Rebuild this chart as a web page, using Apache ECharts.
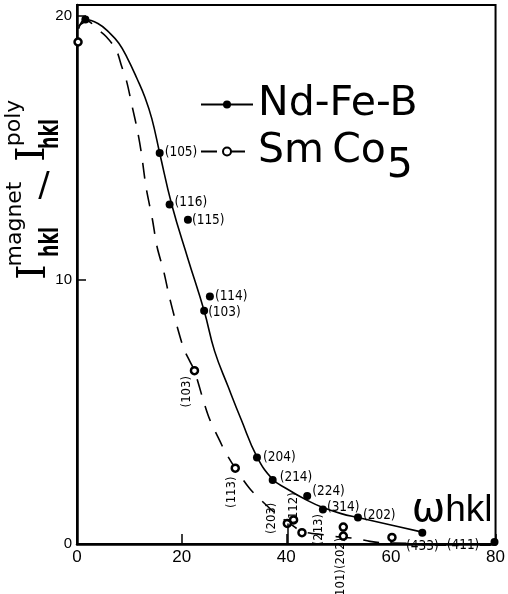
<!DOCTYPE html>
<html><head><meta charset="utf-8">
<script src="https://cdn.jsdelivr.net/npm/echarts@6/dist/echarts.min.js"></script>
<style>html,body{margin:0;padding:0;background:#fff}#c{width:508px;height:594px}</style>
</head><body><div id="c"></div>
<script>
// ---- data ----
const xTicks = [0, 20, 40, 60, 80];
const yTicks = [0, 10, 20];

// fitted curve Nd-Fe-B (solid)
const ndCurveX = [0.3, 1.6, 4.0, 6.2, 8.0, 9.6, 11.5, 13.0, 14.3, 15.8, 18.1, 21.2, 24.3, 26.3, 28.9, 31.4, 34.4, 37.4, 40.0, 44.0, 47.0, 50.5, 53.7, 60.0, 66.0];
const ndCurveY = [19.5, 19.85, 19.7, 19.35, 18.95, 18.4, 17.6, 16.9, 16.1, 14.8, 12.85, 10.8, 8.83, 7.3, 5.95, 4.7, 3.3, 2.45, 2.1, 1.65, 1.38, 1.15, 1.0, 0.72, 0.45];

// fitted curve SmCo5 (dashed)
const smCurveX = [0.3, 2.0, 3.8, 5.6, 7.5, 8.5, 9.5, 10.5, 11.5, 12.3, 13.2, 14.4, 15.3, 16.6, 17.6, 18.9, 20.4, 21.6, 22.45, 24.2, 25.4, 27.3, 28.3, 30.25, 33.0, 35.5, 38.0, 40.5, 43.0, 47.4, 49.6, 52.8, 56.0, 58.5, 63.0];
const smCurveY = [19.6, 19.8, 19.5, 19.2, 18.7, 18.1, 17.5, 16.6, 15.7, 14.8, 13.5, 12.3, 11.25, 10.3, 9.4, 8.4, 7.4, 6.9, 6.56, 5.4, 4.7, 3.9, 3.5, 2.87, 2.1, 1.6, 1.15, 0.8, 0.48, 0.34, 0.28, 0.22, 0.1, 0.04, 0.03];

// measured points Nd-Fe-B (filled)
const ndX = [1.6, 15.8, 17.7, 21.2, 25.4, 24.3, 34.4, 37.4, 44.0, 47.0, 53.7, 66.0, 79.8];
const ndY = [19.85, 14.8, 12.85, 12.27, 9.37, 8.83, 3.27, 2.42, 1.82, 1.31, 1.0, 0.43, 0.08];
const ndHkl = ['', '(105)', '(116)', '(115)', '(114)', '(103)', '(204)', '(214)', '(224)', '(314)', '(202)', '(433)', '—(411)—'];

// measured points SmCo5 (open)
const smX = [0.2, 22.45, 30.25, 40.2, 41.4, 43.0, 50.9, 50.9, 60.2];
const smY = [19.0, 6.56, 2.87, 0.78, 0.91, 0.43, 0.64, 0.30, 0.25];
const smHkl = ['', '(103)', '(113)', '(203)', '(112)', '(213)', '', '(101)(202)', ''];

const seriesNames = ['Nd-Fe-B', 'SmCo5'];

// ---- label placement (style, not data) ----
const ndPlace = {
  '(105)': [5, 0, 'left'], '(116)': [5, -2, 'left'], '(115)': [4, 1, 'left'], '(114)': [5, 0, 'left'],
  '(103)': [4, 2, 'left'], '(204)': [6, 0, 'left'], '(214)': [7, -3, 'left'], '(224)': [5, -4, 'left'],
  '(314)': [4, -2, 'left'], '(202)': [5, -2, 'left'], '(433)': [0, 14, 'center'], '—(411)—': [-3, 4, 'right']
};
// screen offsets of label centre for vertical labels
const smPlace = {
  '(103)': [-8, 21], '(113)': [-4, 24], '(203)': [-16, -5], '(112)': [0, -12], '(213)': [17, -3], '(101)(202)': [-3, 33]
};

const LBL_FONT = "'DejaVu Sans Condensed','DejaVu Sans',sans-serif";
const zip = (xs, ys) => xs.map((x, i) => [x, ys[i]]);

const ndPoints = ndX.map((x, i) => {
  const t = ndHkl[i];
  if (!t) return {value: [x, ndY[i]], label: {show: false}};
  const p = ndPlace[t];
  return {value: [x, ndY[i]], label: {show: true, formatter: t, position: 'inside', align: p[2], verticalAlign: 'middle', offset: [p[0], p[1]]}};
});
const smPoints = smX.map((x, i) => {
  const t = smHkl[i];
  if (!t) return {value: [x, smY[i]], label: {show: false}};
  const p = smPlace[t];
  // label rotated 90deg: offset expressed in rotated frame
  return {value: [x, smY[i]], label: {show: true, formatter: t, position: 'inside', rotate: 90, align: 'center', verticalAlign: 'middle', offset: [-p[1], p[0]]}};
});
// stem below the (203) point
const stemIdx = smHkl.indexOf('(203)');

const chart = echarts.init(document.getElementById('c'), null, {renderer: 'canvas'});
const rot = Math.PI / 2;
chart.setOption({
  animation: false,
  backgroundColor: '#fff',
  grid: {left: 77, right: 6, top: 5, bottom: 50, show: true, borderColor: '#000', borderWidth: 2},
  legend: {
    data: seriesNames, orient: 'vertical', left: 200, top: 84, itemWidth: 52, itemHeight: 10, itemGap: 6,
    padding: 0, selectedMode: false,
    formatter: n => n === 'SmCo5' ? '{n|Sm\u2009Co}{s|5}' : '{n|Nd-Fe-B}',
    textStyle: {color: '#000', fontSize: 41, fontFamily: 'DejaVu Sans',
      rich: {n: {fontSize: 41, fontFamily: 'DejaVu Sans', color: '#000', verticalAlign: 'middle'},
             s: {fontSize: 41, fontFamily: 'DejaVu Sans', color: '#000', verticalAlign: 'middle', padding: [30, 0, 0, 1]}}}
  },
  xAxis: {
    type: 'value', min: xTicks[0], max: xTicks[xTicks.length - 1], interval: xTicks[1] - xTicks[0],
    name: '{w|ω}{h|hkl}', nameLocation: 'end', nameGap: -3,
    nameTextStyle: {align: 'right', verticalAlign: 'bottom', padding: [0, 0, 13, 0], fontSize: 36, color: '#000',
      rich: {w: {fontSize: 40, fontFamily: 'DejaVu Sans', color: '#000'}, h: {fontSize: 37, fontFamily: 'Liberation Sans', color: '#000'}}},
    axisLine: {show: true, lineStyle: {color: '#000', width: 2.5}},
    axisTick: {show: true, inside: true, length: 10, lineStyle: {color: '#000', width: 1.5}},
    splitLine: {show: false},
    axisLabel: {color: '#000', fontSize: 17, fontFamily: 'Liberation Sans', margin: 5}
  },
  yAxis: {
    type: 'value', min: yTicks[0], max: 20.4, interval: yTicks[1] - yTicks[0],
    axisLine: {show: true, lineStyle: {color: '#000', width: 2.5}},
    axisTick: {show: true, inside: true, length: 9, lineStyle: {color: '#000', width: 1.5}},
    splitLine: {show: false},
    axisLabel: {color: '#000', fontSize: 15, fontFamily: 'Liberation Sans', margin: 5,
      formatter: v => (yTicks.indexOf(v) >= 0 ? String(v) : '')}
  },
  graphic: [
    {type: 'text', x: 35, y: 272, rotation: rot, style: {text: 'I', font: '40px "DejaVu Serif"', fill: '#000', align: 'center', verticalAlign: 'middle'}},
    {type: 'text', x: 51, y: 242, rotation: rot, scaleX: 0.75, style: {text: 'hkl', font: 'bold 26px "DejaVu Sans Condensed"', fill: '#000', align: 'center', verticalAlign: 'middle'}},
    {type: 'text', x: 15, y: 224, rotation: rot, style: {text: 'magnet', font: '22px "DejaVu Sans"', fill: '#000', align: 'center', verticalAlign: 'middle'}},
    {type: 'text', x: 44, y: 187, style: {text: '/', font: '34px "DejaVu Sans"', fill: '#000', align: 'center', verticalAlign: 'middle'}},
    {type: 'text', x: 34, y: 154, rotation: rot, style: {text: 'I', font: '40px "DejaVu Serif"', fill: '#000', align: 'center', verticalAlign: 'middle'}},
    {type: 'text', x: 14, y: 123, rotation: rot, style: {text: 'poly', font: '22px "DejaVu Sans"', fill: '#000', align: 'center', verticalAlign: 'middle'}},
    {type: 'text', x: 51, y: 134, rotation: rot, scaleX: 0.75, style: {text: 'hkl', font: 'bold 26px "DejaVu Sans Condensed"', fill: '#000', align: 'center', verticalAlign: 'middle'}}
  ],
  series: [
    {name: seriesNames[0], type: 'line', data: zip(ndCurveX, ndCurveY), smooth: 0.45, symbol: 'circle', showSymbol: false,
     lineStyle: {color: '#000', width: 1.6}, itemStyle: {color: '#000'}, z: 2, silent: true},
    {name: seriesNames[1], type: 'line', data: zip(smCurveX, smCurveY), smooth: 0.3, symbol: 'emptyCircle', showSymbol: false,
     lineStyle: {color: '#000', width: 1.6, type: [16, 12]}, itemStyle: {color: '#000'}, z: 2, silent: true},
    {name: seriesNames[0], type: 'scatter', data: ndPoints, symbol: 'circle', symbolSize: 8,
     itemStyle: {color: '#000', opacity: 1}, label: {color: '#000', fontSize: 13.5, fontFamily: LBL_FONT}, z: 4},
    {name: seriesNames[1], type: 'scatter', data: smPoints, symbol: 'circle', symbolSize: 7,
     itemStyle: {color: '#fff', borderColor: '#000', borderWidth: 2.5, opacity: 1},
     label: {color: '#000', fontSize: 13, fontFamily: LBL_FONT}, z: 4,
     markLine: {silent: true, symbol: 'none', label: {show: false}, lineStyle: {color: '#000', width: 1.5, type: 'solid'},
       data: [[{coord: [smX[stemIdx], 0]}, {coord: [smX[stemIdx], smY[stemIdx]]}]]}}
  ]
});
</script></body></html>
